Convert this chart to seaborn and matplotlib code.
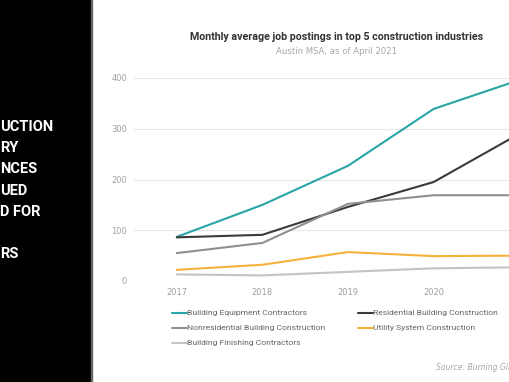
import matplotlib
matplotlib.use("Agg")
import pandas as pd
import seaborn as sns
import matplotlib.pyplot as plt
from matplotlib.patches import Rectangle

years = [2017, 2018, 2019, 2020, 2021]
equipment = [87, 150, 227, 339, 396]
residential = [86, 91, 146, 195, 290]
nonresidential = [55, 75, 152, 169, 169]
utility = [22, 32, 57, 49, 50]
finishing = [13, 11, 18, 25, 27]

series_names = ["Building Equipment Contractors", "Residential Building Construction",
                "Nonresidential Building Construction", "Utility System Construction",
                "Building Finishing Contractors"]
colors = ["#2aa5a7", "#3a3a3a", "#8f8f8f", "#f6b13a", "#c4c4c4"]
side_lines = ["UCTION", "RY", "NCES", "UED", "D FOR", "", "RS"]

df = pd.DataFrame({"year": years})
for name, vals in zip(series_names, [equipment, residential, nonresidential, utility, finishing]):
    df[name] = vals
long = df.melt(id_vars="year", var_name="series", value_name="postings")

sns.set_theme(style="white")
fig = plt.figure(figsize=(5.1, 3.82), dpi=100)

# black slide panel on the left
fig.patches.append(Rectangle((0, 0), 91 / 510, 1, transform=fig.transFigure,
                             color="black", zorder=0))
fig.patches.append(Rectangle((91 / 510, 0), 1.5 / 510, 1, transform=fig.transFigure,
                             color="#666666", zorder=0))
for i, t in enumerate(side_lines):
    fig.text(0.0, 1 - (127 + i * 21.2) / 382, t, color="white", fontsize=10.5,
             fontweight="bold", family="Roboto", va="center", ha="left")

ax = fig.add_axes([134 / 510, 1 - 281 / 382, 428 / 510, 203 / 382])
sns.lineplot(data=long, x="year", y="postings", hue="series", palette=colors,
             linewidth=1.5, ax=ax, legend=False, clip_on=False)

ax.set_xlim(2016.5, 2021.5)
ax.set_ylim(0, 400)
ax.set_xticks(years[:-1])
ax.set_yticks([0, 100, 200, 300, 400])
ax.tick_params(axis="both", labelsize=6, colors="#a0a0a0", length=0)
ax.tick_params(axis="x", pad=5)
ax.tick_params(axis="y", pad=5)
ax.grid(axis="y", color="#e8e8e8", linewidth=0.8)
ax.set_axisbelow(True)
for s in ax.spines.values():
    s.set_visible(False)
ax.set_xlabel("")
ax.set_ylabel("")

fig.text(337 / 510, 1 - 37 / 382, "Monthly average job postings in top 5 construction industries",
         ha="center", va="center", fontsize=7.7, fontweight="bold", color="#333333",
         family="Roboto")
fig.text(337 / 510, 1 - 52 / 382, "Austin MSA, as of April 2021", ha="center", va="center",
         fontsize=6.1, color="#a8a8a8")

# legend laid out by hand in two columns
leg_pos = [(172, 313), (358, 313), (172, 328), (358, 328), (172, 343)]
for (lx, ly), name, c in zip(leg_pos, series_names, colors):
    fig.add_artist(plt.Line2D([lx / 510, (lx + 15) / 510], [1 - ly / 382] * 2,
                              color=c, linewidth=1.5, transform=fig.transFigure))
    fig.text((lx + 15) / 510, 1 - ly / 382, name, ha="left", va="center",
             fontsize=6.1, color="#666666", family="Roboto")

fig.text(436 / 510, 1 - 368 / 382, "Source: Burning Glass Technologies", ha="left",
         va="center", fontsize=5.5, color="#a8a8a8", style="italic")

fig.savefig("out.png", dpi=100)
